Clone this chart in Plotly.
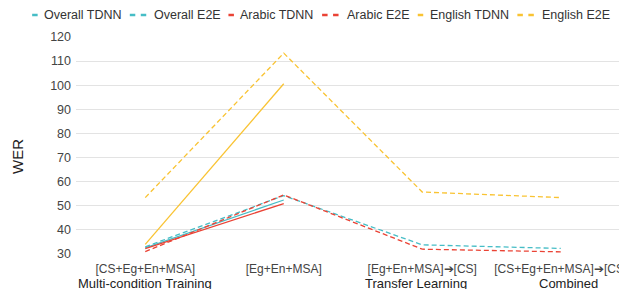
import plotly.graph_objects as go

# ---- data ----
categories = ["[CS+Eg+En+MSA]", "[Eg+En+MSA]", "[Eg+En+MSA]\u2794[CS]", "[CS+Eg+En+MSA]\u2794[CS]"]
groups = ["Multi-condition Training", "", "Transfer Learning", "Combined"]

overall_tdnn = [32.5, 52.4, None, None]
overall_e2e = [33.0, 54.2, 33.8, 32.3]
arabic_tdnn = [32.2, 50.9, None, None]
arabic_e2e = [31.0, 54.5, 32.0, 30.9]
english_tdnn = [34.0, 100.6, None, None]
english_e2e = [53.4, 113.3, 55.7, 53.4]

y_ticks = [30, 40, 50, 60, 70, 80, 90, 100, 110, 120]

series = [
    ("Overall TDNN", overall_tdnn),
    ("Overall E2E", overall_e2e),
    ("Arabic TDNN", arabic_tdnn),
    ("Arabic E2E", arabic_e2e),
    ("English TDNN", english_tdnn),
    ("English E2E", english_e2e),
]

# ---- styles ----
CYAN, RED, YELLOW = "#46bdc6", "#ea4335", "#f9c332"
styles = {
    "Overall TDNN": (CYAN, "solid"),
    "Overall E2E": (CYAN, "5px,3px"),
    "Arabic TDNN": (RED, "solid"),
    "Arabic E2E": (RED, "5px,3px"),
    "English TDNN": (YELLOW, "solid"),
    "English E2E": (YELLOW, "5px,3px"),
}
FONT = "Arial, Liberation Sans, sans-serif"

# page has an 8px body margin; layout below is in figure coordinates
W, H = 619, 281
ML, MT, MB = 68, 29, 35
PW, PH = W - ML, H - MT - MB
PB = H - MB  # plot bottom in figure px


def px_x(x):
    return (x - ML) / PW


def px_y(y):
    return (PB - y) / PH


fig = go.Figure()
for name, vals in series:
    color, dash = styles[name]
    fig.add_trace(go.Scatter(
        x=categories, y=vals, name=name, mode="lines",
        line=dict(color=color, width=1.3, dash=dash),
        showlegend=False, connectgaps=False,
    ))

# ---- compact legend, like the original ----
legend_x = [24, 122, 221, 315, 411, 511]
legend_y = 7
annotations = []
shapes = []
for (name, _), lx in zip(series, legend_x):
    color, dash = styles[name]
    if dash == "solid":
        segs = [(lx, lx + 5.5)]
        tx = lx + 10
    else:
        segs = [(lx, lx + 5.5), (lx + 11, lx + 16.5)]
        tx = lx + 22.5
    for a, b in segs:
        shapes.append(dict(type="line", xref="paper", yref="paper",
                           x0=px_x(a), x1=px_x(b), y0=px_y(legend_y), y1=px_y(legend_y),
                           line=dict(color=color, width=2.5)))
    annotations.append(dict(text=name, xref="paper", yref="paper",
                            x=px_x(tx), y=px_y(legend_y),
                            xanchor="left", yanchor="middle", showarrow=False,
                            font=dict(family=FONT, size=12.5, color="#333")))

# group labels under the category labels
group_shift = [0, 0, -6, 8]
for cat, grp, sh in zip(categories, groups, group_shift):
    if grp:
        annotations.append(dict(text=grp, x=cat, xref="x", y=0, yref="paper",
                                yanchor="top", xanchor="center", yshift=-20, xshift=sh,
                                showarrow=False,
                                font=dict(family=FONT, size=13, color="#222")))

# y axis title
annotations.append(dict(text="WER", xref="paper", yref="paper", x=0, y=px_y(149),
                        xshift=-59, xanchor="center", yanchor="middle",
                        textangle=-90, showarrow=False,
                        font=dict(family=FONT, size=15, color="#222")))

fig.update_layout(
    width=W, height=H,
    margin=dict(l=ML, r=0, t=MT, b=MB, pad=0),
    paper_bgcolor="white", plot_bgcolor="white",
    font=dict(family=FONT, color="#444"),
    showlegend=False,
    annotations=annotations,
    shapes=shapes,
    xaxis=dict(type="category", categoryorder="array", categoryarray=categories,
               range=[-0.5, 3.464], showgrid=False, zeroline=False, showline=False,
               ticks="", tickfont=dict(size=12, color="#444"), ticklabelstandoff=6),
    yaxis=dict(range=[30, 120], tickvals=y_ticks, showgrid=True, gridcolor="#e3e3e3",
               gridwidth=1, zeroline=False, showline=False, ticks="",
               tickfont=dict(size=12.5, color="#444"), ticklabelstandoff=4),
)

fig.write_html("out.html")
